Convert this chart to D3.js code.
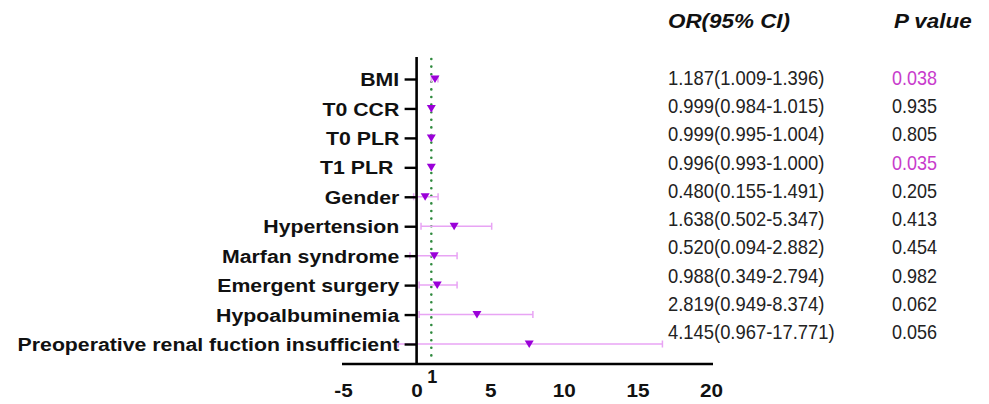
<!DOCTYPE html>
<html>
<head>
<meta charset="utf-8">
<script src="https://cdn.jsdelivr.net/npm/d3@7"></script>
<style>
  body { margin: 0; background: #fff; }
  svg { font-family: 'Liberation Sans', Arial, sans-serif; }
</style>
</head>
<body>
<div id="chart"></div>
<script>
// variables, top to bottom
const LABELS = [
  'BMI', 'T0 CCR', 'T0 PLR', 'T1 PLR ', 'Gender', 'Hypertension',
  'Marfan syndrome', 'Emergent surgery', 'Hypoalbuminemia',
  'Preoperative renal fuction insufficient'
];
// marker / whisker positions as they are drawn in the picture
const OR_PLOT = [1.25, 1.0, 1.0, 1.0, 0.58, 2.55, 1.2, 1.4, 4.1, 7.65];
const CI_LOW = [1.0, 0.98, 0.99, 0.99, -0.2, 0.3, -0.45, 0.17, 0.17, -1.25];
const CI_HIGH = [1.45, 1.02, 1.01, 1.01, 1.46, 5.1, 2.75, 2.75, 7.9, 16.7];
// table columns
const OR_TEXT = [
  '1.187(1.009-1.396)', '0.999(0.984-1.015)', '0.999(0.995-1.004)',
  '0.996(0.993-1.000)', '0.480(0.155-1.491)', '1.638(0.502-5.347)',
  '0.520(0.094-2.882)', '0.988(0.349-2.794)', '2.819(0.949-8.374)',
  '4.145(0.967-17.771)'
];
const P_TEXT = ['0.038', '0.935', '0.805', '0.035', '0.205', '0.413',
  '0.454', '0.982', '0.062', '0.056'];
const X_TICKS = [-5, 0, 5, 10, 15, 20];
const REF_LINE = 1;

const width = 989;
const height = 404;

const MARK = '#9a00d8';
const WHISKER = '#e8a4f4';
const SIGNIF = '#c83ccc';

const svg = d3.select('#chart')
  .append('svg')
  .attr('width', width)
  .attr('height', height);

const x = d3.scaleLinear().domain([-5, 20]).range([343, 711]);
const y = d3.scalePoint().domain(LABELS).range([79, 344]);
const yText = d3.scalePoint().domain(LABELS).range([85, 339]);

const rows = LABELS.map((label, i) => ({
  label,
  or: OR_PLOT[i],
  lo: CI_LOW[i],
  hi: CI_HIGH[i],
  orText: OR_TEXT[i],
  p: P_TEXT[i]
}));

// reference line at OR = 1
svg.append('line')
  .attr('x1', x(REF_LINE)).attr('x2', x(REF_LINE))
  .attr('y1', 59).attr('y2', 362)
  .attr('stroke', '#2f8a3e')
  .attr('stroke-width', 2.6)
  .attr('stroke-linecap', 'round')
  .attr('stroke-dasharray', '0 7.6');

// whiskers
const ci = svg.append('g')
  .attr('stroke', WHISKER)
  .attr('stroke-width', 1.5)
  .attr('fill', 'none');

ci.selectAll('line.bar')
  .data(rows)
  .join('line')
  .attr('class', 'bar')
  .attr('x1', d => x(d.lo)).attr('x2', d => x(d.hi))
  .attr('y1', d => y(d.label)).attr('y2', d => y(d.label));

ci.selectAll('path.cap')
  .data(rows)
  .join('path')
  .attr('class', 'cap')
  .attr('d', d => {
    const yy = y(d.label);
    return `M${x(d.lo)},${yy - 3.5}V${yy + 3.5}M${x(d.hi)},${yy - 3.5}V${yy + 3.5}`;
  });

// markers (down triangles)
svg.append('g')
  .selectAll('path')
  .data(rows)
  .join('path')
  .attr('fill', MARK)
  .attr('transform', d => `translate(${x(d.or)},${y(d.label)})`)
  .attr('d', 'M-4.5,-3.5L4.5,-3.5L0,4Z');

// y axis
const yAxis = svg.append('g')
  .attr('transform', `translate(${x(0)},0)`)
  .call(d3.axisLeft(y).tickSize(12).tickPadding(3).tickSizeOuter(0));

yAxis.select('.domain').remove();
yAxis.append('line')
  .attr('x1', 0).attr('x2', 0)
  .attr('y1', 57).attr('y2', 365)
  .attr('stroke', '#000').attr('stroke-width', 2.6);

yAxis.selectAll('.tick line')
  .attr('stroke', '#000').attr('stroke-width', 2.4);

yAxis.selectAll('.tick text')
  .attr('fill', '#111')
  .attr('font-size', 19)
  .attr('font-weight', 'bold')
  .attr('x', -15.5)
  .attr('dy', '0.35em')
  .style('white-space', 'pre')
  .attr('transform', 'scale(1.12,1)');

// x axis
const xAxis = svg.append('g')
  .attr('transform', 'translate(0,364)')
  .call(d3.axisBottom(x)
    .tickValues(X_TICKS)
    .tickFormat(d => String(d))
    .tickSize(0)
    .tickPadding(20)
    .tickSizeOuter(0));

xAxis.select('.domain')
  .attr('stroke', '#000')
  .attr('stroke-width', 2.6)
  .attr('d', `M${x(-5) - 1},0H${x(20) + 2}`);

xAxis.selectAll('.tick text')
  .attr('fill', '#111')
  .attr('font-size', 18.5)
  .attr('font-weight', 'bold')
  .attr('transform', 'scale(1.12,1)');

// the extra "1" label for the reference line
svg.append('text')
  .attr('x', x(REF_LINE) + 1)
  .attr('y', 383)
  .attr('text-anchor', 'middle')
  .attr('font-size', 18)
  .attr('font-weight', 'bold')
  .attr('fill', '#111')
  .text(REF_LINE);

// table headers
const headers = [
  { text: 'OR(95% CI)', x: 668 },
  { text: 'P value', x: 894 }
];
svg.append('g')
  .selectAll('text')
  .data(headers)
  .join('text')
  .attr('transform', d => `translate(${d.x},28) scale(1.15,1)`)
  .attr('font-size', 19.5)
  .attr('font-weight', 'bold')
  .attr('font-style', 'italic')
  .attr('fill', '#111')
  .text(d => d.text);

// OR column
svg.append('g')
  .selectAll('text')
  .data(rows)
  .join('text')
  .attr('transform', d => `translate(668,${yText(d.label)}) scale(0.92,1)`)
  .attr('font-size', 20)
  .attr('fill', '#222')
  .text(d => d.orText);

// P column
svg.append('g')
  .selectAll('text')
  .data(rows)
  .join('text')
  .attr('transform', d => `translate(892,${yText(d.label)}) scale(0.9,1)`)
  .attr('font-size', 20)
  .attr('fill', d => (+d.p < 0.05 ? SIGNIF : '#222'))
  .text(d => d.p);
</script>
</body>
</html>
